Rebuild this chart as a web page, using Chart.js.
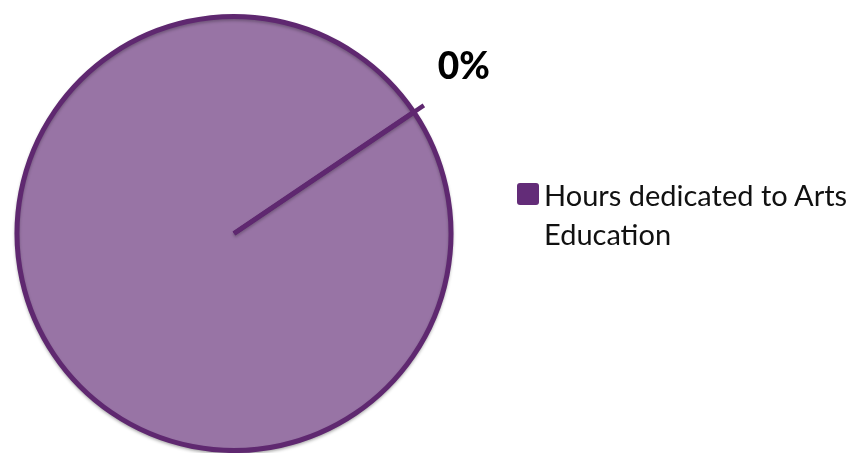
<!DOCTYPE html>
<html>
<head>
<meta charset="utf-8">
<script src="https://cdn.jsdelivr.net/npm/chart.js@4.4.1/dist/chart.umd.min.js"></script>
<style>
  html, body { margin: 0; padding: 0; background: #fff; overflow: hidden; }
  #wrap { position: relative; width: 856px; height: 453px; }
  #legend {
    position: absolute; left: 517px; top: 175px; width: 339px;
    font-family: Lato, sans-serif; font-size: 29px; line-height: 39px; color: #111;
  }
  #legend .box {
    position: absolute; left: 0; top: 8px; width: 22px; height: 22px;
    background: #632c78; border-radius: 3px;
  }
  #legend .text { margin-left: 27px; }
</style>
</head>
<body>
<div id="wrap">
  <canvas id="chart" width="856" height="453"></canvas>
  <div id="legend"></div>
</div>
<script>
const categories = ["Hours dedicated to Arts Education", "Other hours"];
const hours = [0, 100];
const legendShown = ["Hours dedicated to Arts Education"];

const sliceColors = ["#632c78", "#9874a5"];
const edgeColor = "#5f2870";

// legend lives beside the canvas so the long label can wrap
const legendEl = document.getElementById("legend");
legendShown.forEach(name => {
  const i = categories.indexOf(name);
  legendEl.innerHTML += `<div class="box" style="background:${sliceColors[i]}"></div><div class="text">${name}</div>`;
});

// leader line and percentage for the arts slice
const percentLabel = {
  id: "percentLabel",
  afterDatasetsDraw(chart) {
    const arc = chart.getDatasetMeta(0).data[0];
    const total = hours.reduce((a, b) => a + b, 0);
    const pct = Math.round(hours[0] / total * 100) + "%";
    const ang = arc.startAngle;
    const ctx = chart.ctx;
    const r = arc.outerRadius + 12;
    const ex = arc.x + Math.cos(ang) * r;
    const ey = arc.y + Math.sin(ang) * r;

    ctx.save();
    ctx.strokeStyle = edgeColor;
    ctx.lineWidth = 4.5;
    ctx.lineCap = "butt";
    ctx.beginPath();
    ctx.moveTo(arc.x, arc.y);
    ctx.lineTo(ex, ey);
    ctx.stroke();

    ctx.fillStyle = "#000";
    ctx.font = "900 37px Lato, sans-serif";
    ctx.textAlign = "center";
    ctx.textBaseline = "middle";
    ctx.fillText(pct, ex + 40, ey - 38);
    ctx.restore();
  }
};

// faint drop shadow under the pie
const pieShadow = {
  id: "pieShadow",
  beforeDatasetsDraw(chart) {
    const ctx = chart.ctx;
    ctx.save();
    ctx.shadowColor = "rgba(0,0,0,0.25)";
    ctx.shadowBlur = 3;
    ctx.shadowOffsetY = 2;
  },
  afterDatasetsDraw(chart) {
    chart.ctx.restore();
  }
};

new Chart(document.getElementById("chart").getContext("2d"), {
  type: "pie",
  data: {
    labels: categories,
    datasets: [{
      data: hours,
      backgroundColor: sliceColors,
      borderColor: edgeColor,
      borderWidth: 5
    }]
  },
  options: {
    responsive: false,
    animation: false,
    rotation: 56,
    layout: { padding: { left: 13, top: 14, right: 401, bottom: 0 } },
    plugins: {
      legend: { display: false },
      tooltip: { enabled: false }
    }
  },
  plugins: [pieShadow, percentLabel]
});
</script>
</body>
</html>
